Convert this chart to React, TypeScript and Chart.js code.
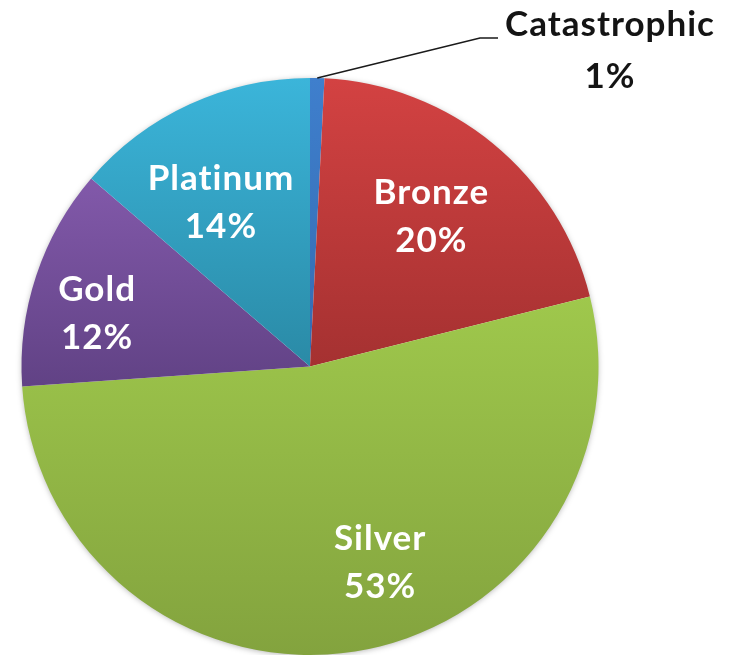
import React, { useEffect, useRef } from "react";
import { Chart, registerables } from "chart.js";

Chart.register(...registerables);

const categories = ["Catastrophic", "Bronze", "Silver", "Gold", "Platinum"];
const values = [0.8, 20.3, 52.8, 12.4, 13.7];
const percentLabels = ["1%", "20%", "53%", "12%", "14%"];
const topColors = ["#3f7fcd", "#d34242", "#9fc84c", "#8259aa", "#3bb5da"];
const bottomColors = ["#346bb0", "#a53131", "#83a33e", "#614285", "#2a8aa6"];
const outsideIndex = 0;

// label placement tweaks (pixels), separate from the data
const labelNudgeX = [0, -5, 39, -24, -6];
const labelNudgeY = [0, 4, 0, 10, 17];

const FONT = "bold 35px Lato";

function sliceGradient(context: any) {
  const chart = context.chart;
  const area = chart.chartArea;
  const i = context.dataIndex;
  if (!area || i === undefined) return topColors[i ?? 0];
  const cx = (area.left + area.right) / 2;
  const cy = (area.top + area.bottom) / 2;
  const r = Math.min(area.right - area.left, area.bottom - area.top) / 2;
  const total = values.reduce((a, b) => a + b, 0);
  let before = 0;
  for (let k = 0; k < i; k++) before += values[k];
  const a0 = -Math.PI / 2 + (before / total) * Math.PI * 2;
  const a1 = a0 + (values[i] / total) * Math.PI * 2;
  const ys = [cy, cy + r * Math.sin(a0), cy + r * Math.sin(a1)];
  const contains = (a: number) => {
    let t = a;
    while (t < a0) t += Math.PI * 2;
    return t <= a1;
  };
  if (contains(-Math.PI / 2)) ys.push(cy - r);
  if (contains(Math.PI / 2)) ys.push(cy + r);
  const y0 = Math.min(...ys);
  const y1 = Math.max(...ys);
  const g = chart.ctx.createLinearGradient(0, y0, 0, y1);
  g.addColorStop(0, topColors[i]);
  g.addColorStop(1, bottomColors[i]);
  return g;
}

const shadowPlugin = {
  id: "pieShadow",
  beforeDatasetsDraw(chart: any) {
    const area = chart.chartArea;
    const cx = (area.left + area.right) / 2;
    const cy = (area.top + area.bottom) / 2;
    const r = Math.min(area.right - area.left, area.bottom - area.top) / 2;
    const ctx = chart.ctx;
    ctx.save();
    ctx.shadowColor = "rgba(0,0,0,0.35)";
    ctx.shadowBlur = 6;
    ctx.shadowOffsetX = 0;
    ctx.shadowOffsetY = 1;
    ctx.fillStyle = "#ffffff";
    ctx.beginPath();
    ctx.arc(cx, cy, r - 1, 0, Math.PI * 2);
    ctx.fill();
    ctx.restore();
  },
};

const labelPlugin = {
  id: "sliceLabels",
  afterDatasetsDraw(chart: any) {
    const ctx = chart.ctx;
    const meta = chart.getDatasetMeta(0);
    ctx.save();
    ctx.font = FONT;
    (ctx as any).letterSpacing = "1px";
    ctx.textAlign = "center";
    ctx.textBaseline = "middle";
    meta.data.forEach((arc: any, i: number) => {
      const p = arc.getProps(["x", "y", "startAngle", "endAngle", "outerRadius"], true);
      const mid = (p.startAngle + p.endAngle) / 2;
      if (i === outsideIndex) {
        const ex = p.x + Math.cos(mid) * p.outerRadius;
        const ey = p.y + Math.sin(mid) * p.outerRadius;
        const lx = 610;
        const ly = 25;
        ctx.strokeStyle = "#1a1a1a";
        ctx.lineWidth = 1.5;
        ctx.beginPath();
        ctx.moveTo(ex, ey);
        ctx.lineTo(lx - 130, ly + 13);
        ctx.lineTo(lx - 112, ly + 13);
        ctx.stroke();
        ctx.fillStyle = "#141414";
        ctx.fillText(categories[i], lx, ly);
        ctx.fillText(percentLabels[i], lx, ly + 52);
        return;
      }
      const rr = p.outerRadius * 0.69;
      const x = p.x + Math.cos(mid) * rr + labelNudgeX[i];
      const y = p.y + Math.sin(mid) * rr + labelNudgeY[i];
      ctx.fillStyle = "#ffffff";
      ctx.fillText(categories[i], x, y - 24);
      ctx.fillText(percentLabels[i], x, y + 24);
    });
    ctx.restore();
  },
};

export default function App() {
  const ref = useRef<HTMLCanvasElement>(null);
  useEffect(() => {
    document.body.style.margin = "0";
    const chart = new Chart(ref.current!, {
      type: "pie",
      data: {
        labels: categories,
        datasets: [
          {
            data: values,
            backgroundColor: sliceGradient as any,
            borderWidth: 0,
          },
        ],
      },
      options: {
        animation: false,
        responsive: false,
        layout: { padding: { left: 21, right: 133, top: 78, bottom: 0 } },
        plugins: {
          legend: { display: false },
          tooltip: { enabled: false },
        },
      },
      plugins: [shadowPlugin, labelPlugin],
    });
    return () => chart.destroy();
  }, []);
  return (
    <div style={{ width: 732, height: 655, background: "#fff" }}>
      <canvas ref={ref} width={732} height={655} />
    </div>
  );
}
